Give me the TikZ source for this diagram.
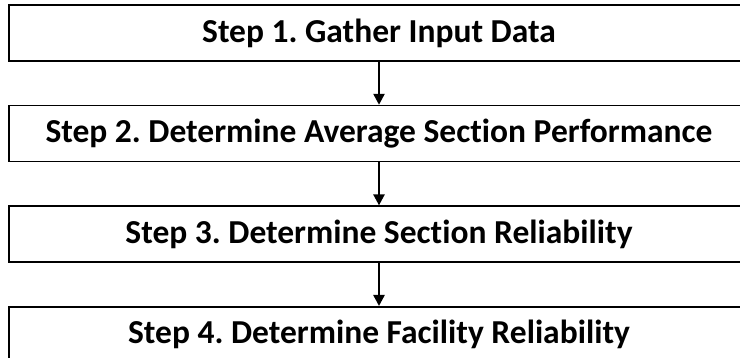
\documentclass[tikz,border=0pt]{standalone}
\usepackage{fontspec}
\setmainfont[Ligatures=NoCommon]{Carlito}
\frenchspacing
\usetikzlibrary{positioning,arrows.meta}
\begin{document}
\begin{tikzpicture}[x=1pt,y=1pt,
  stepbox/.style={draw, line width=1.6pt, minimum width=740pt, minimum height=56pt,
    inner sep=0pt, font=\bfseries\fontsize{33.5}{40}\selectfont},
  node distance=43pt]
\useasboundingbox (0,0) rectangle (740,-358);
\node (S1) at (379,-33) [stepbox] {Step 1. Gather Input Data};
\node (S2) [stepbox, below=of S1] {Step 2. Determine Average Section Performance};
\node (S3) [stepbox, below=of S2] {Step 3. Determine Section Reliability};
\node (S4) [stepbox, below=of S3] {Step 4. Determine Facility Reliability};
\draw[-{Triangle[width=11pt,length=11pt]}, line width=2.4pt] (S1) -- (S2) ;
\draw[-{Triangle[width=11pt,length=11pt]}, line width=2.4pt] (S2) -- (S3) ;
\draw[-{Triangle[width=11pt,length=11pt]}, line width=2.4pt] (S3) -- (S4) ;
\end{tikzpicture}
\end{document}
